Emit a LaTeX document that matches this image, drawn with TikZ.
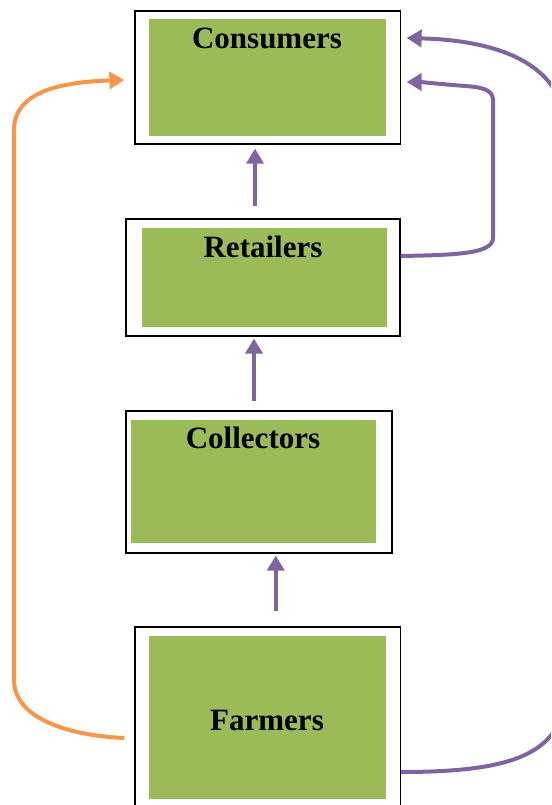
\documentclass[tikz,border=0pt]{standalone}
\usepackage{fontspec}
\setmainfont{Liberation Serif}
\usetikzlibrary{arrows.meta}
\definecolor{leafgreen}{HTML}{9BBB59}
\definecolor{flowpurple}{HTML}{8064A2}
\definecolor{floworange}{HTML}{F79646}
\tikzset{
  outerbox/.style={draw=black, line width=1.2pt, fill=white, inner sep=0pt},
  innerbox/.style={fill=leafgreen, inner sep=0pt},
  boxlabel/.style={font=\fontsize{31}{31}\selectfont\bfseries, inner sep=0pt},
  flow/.style={draw=flowpurple, line width=4pt, -{Triangle[length=15pt,width=17pt]}},
  sideflow/.style={flow, draw=floworange}
}
\begin{document}
\begin{tikzpicture}[x=1pt,y=-1pt]
    \useasboundingbox (0,0) rectangle (551,805);
    \clip (0,0) rectangle (551,805);
    \node[outerbox, minimum width=265.5pt, minimum height=133pt] (consumers) at (267.75,77.5) {};
    \node[innerbox, minimum width=236.5pt, minimum height=116.4pt] (consumersfill) at (267.25,77.5) {};
    \node[boxlabel] (consumerstext) at (267,38) {Consumers};
    \node[outerbox, minimum width=274pt, minimum height=117pt] (retailers) at (263,277.5) {};
    \node[innerbox, minimum width=245pt, minimum height=99pt] (retailersfill) at (264.5,277.5) {};
    \node[boxlabel] (retailerstext) at (263,247) {Retailers};
    \node[outerbox, minimum width=266pt, minimum height=142pt] (collectors) at (259,482) {};
    \node[innerbox, minimum width=245pt, minimum height=123pt] (collectorsfill) at (253.5,481.5) {};
    \node[boxlabel] (collectorstext) at (253,438) {Collectors};
    \node[outerbox, minimum width=265.5pt, minimum height=183pt] (farmers) at (267.75,718.5) {};
    \node[innerbox, minimum width=236.5pt, minimum height=163pt] (farmersfill) at (267.25,717.5) {};
    \node[boxlabel] (farmerstext) at (267,720) {Farmers};
    % straight chain
    \draw[flow, shorten <=12pt, shorten >=4pt] ([xshift=-8pt]retailers.north) -- ([xshift=-8pt]retailers.north |- consumers.south);
    \draw[flow, shorten <=9pt, shorten >=2pt] ([xshift=-5pt]collectors.north) -- ([xshift=-5pt]collectors.north |- retailers.south);
    \draw[flow, shorten <=15pt, shorten >=2pt] ([xshift=8pt]farmers.north) -- ([xshift=8pt]farmers.north |- collectors.south);
    % loops on the right
    \draw[flow, shorten >=2pt] ([yshift=21.5pt]retailers.east) .. controls (455,255) and (493,254) .. (493,238)
        -- (493,100) .. controls (493,89) and (480,87) .. (465,86) .. controls (440,84) and (420,82) .. ([xshift=3.5pt,yshift=-4.5pt]consumers.east);
    \draw[flow, shorten >=2pt] ([yshift=-53.5pt]farmers.east) .. controls (510,772) and (565,755) .. (565,690)
        -- (565,130) .. controls (565,60) and (490,40) .. ([xshift=3.5pt,yshift=39.5pt]consumers.east);
    % loop on the left
    \draw[sideflow] ([xshift=-10pt,yshift=-19.5pt]farmers.west) .. controls (60,735) and (14,715) .. (14,680)
        -- (14,130) .. controls (14,92) and (60,82) .. ([xshift=-10pt,yshift=-2.5pt]consumers.west);
  \end{tikzpicture}
\end{document}
